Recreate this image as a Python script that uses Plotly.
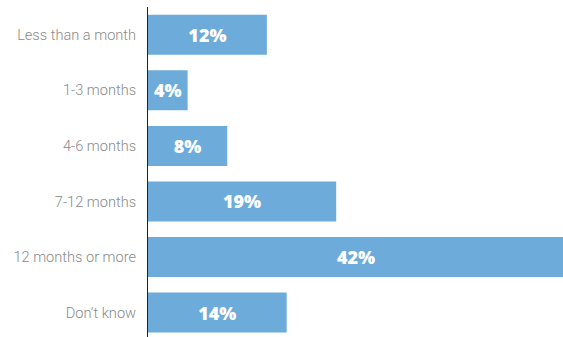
import plotly.graph_objects as go

categories = ["Less than a month", "1-3 months", "4-6 months", "7-12 months",
              "12 months or more", "Don\u2019t know"]
values = [12, 4, 8, 19, 42, 14]
text_labels = [f"{v}%" for v in values]

fig = go.Figure(
    go.Bar(
        x=values,
        y=categories,
        orientation="h",
        marker=dict(color="#6CABDA", line=dict(width=0)),
        text=text_labels,
        textposition="inside",
        insidetextanchor="middle",
        textangle=0,
        textfont=dict(family="Open Sans", size=18, color="white", weight=800),
        hoverinfo="skip",
    )
)

fig.update_layout(
    width=563,
    height=337,
    margin=dict(l=148, r=0, t=7, b=0),
    paper_bgcolor="white",
    plot_bgcolor="white",
    bargap=0.28,
    showlegend=False,
    uniformtext=dict(minsize=10, mode="show"),
)

fig.update_xaxes(
    range=[0, 41.9],
    visible=False,
    showgrid=False,
    zeroline=False,
)

fig.update_yaxes(
    categoryorder="array",
    categoryarray=categories,
    range=[5.44, -0.5],
    showgrid=False,
    zeroline=False,
    showline=True,
    linecolor="#222222",
    linewidth=1,
    ticks="",
    ticklabelstandoff=8,
    tickfont=dict(family="Roboto", size=14.6, color="#8a8a8a", weight=300),
)

fig.write_html("out.html")
